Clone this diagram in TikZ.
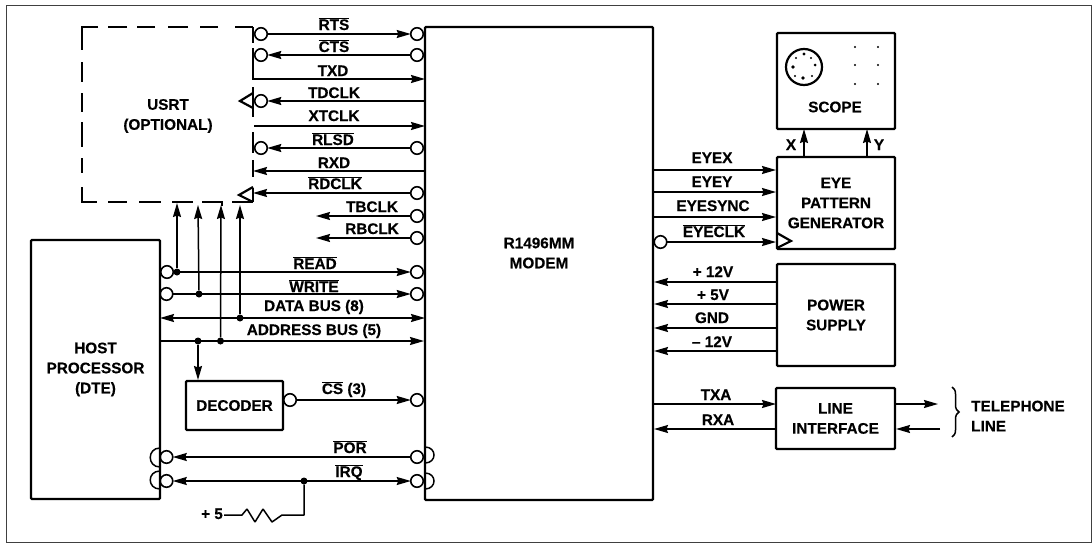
\documentclass[tikz,border=0pt]{standalone}
\usepackage{fontspec}
\setmainfont[BoldFeatures={FakeBold=0.4}]{Liberation Sans}
\usetikzlibrary{arrows.meta, decorations.pathreplacing}
\newcommand{\nsig}[1]{$\overline{\hbox{#1}}$}
\begin{document}
\begin{tikzpicture}[
  x=1pt, y=-1pt,
  txtfont/.style={font=\fontsize{15.3}{20}\selectfont\bfseries},
  box/.style={draw, line width=2.4pt, rounded corners=1pt, inner sep=0pt, outer sep=0pt, align=center, txtfont},
  lab/.style={inner sep=0pt, anchor=base, yshift=-5pt, txtfont},
  txt/.style={inner sep=0pt, align=center, txtfont},
  bub/.style={draw, circle, line width=1.6pt, inner sep=0pt, outer sep=0pt, minimum size=12.5pt},
  wire/.style={line width=1.5pt},
  sig/.style={wire, -{Stealth[length=14pt,width=8pt,inset=1.5pt]}},
  bsig/.style={wire, {Stealth[length=14pt,width=8pt,inset=1.5pt]}-{Stealth[length=14pt,width=8pt,inset=1.5pt]}},
  edge/.style={line width=2.2pt},
  dot/.style={circle, fill, inner sep=0pt, minimum size=7pt}
]
\useasboundingbox (0,0) rectangle (1092,544);
\draw[line width=1pt, black!75] (6,5) rectangle (1091,542);

% boxes
\node[box, minimum width=228pt, minimum height=473pt] (modem) at (539,263.5) {};
\node[txt] (modemT) at (539,253) {R1496MM\\MODEM};
\node[box, minimum width=129pt, minimum height=259pt] (host) at (95.5,369.5) {HOST\\PROCESSOR\\(DTE)};
\node[box, minimum width=97pt, minimum height=49pt] (dec) at (234.5,405.5) {DECODER};
\node[box, minimum width=118pt, minimum height=96pt] (scope) at (836,81) {};
\node[txt] (scopeT) at (835,107) {SCOPE};
\node[box, minimum width=118pt, minimum height=92pt] (eye) at (836,203) {EYE\\PATTERN\\GENERATOR};
\node[box, minimum width=118pt, minimum height=102pt] (pwr) at (836,315) {POWER\\SUPPLY};
\node[box, minimum width=119pt, minimum height=61pt] (line) at (835.5,418.5) {LINE\\INTERFACE};
\node[txt] (usrtT) at (168,116) {USRT\\(OPTIONAL)};

% USRT outline
\draw[edge] (253,27)--(235,27) (218,27)--(200,27) (188,27)--(168,27) (155,27)--(137,27) (127,27)--(108,27)
  (98,27)--(82,27)--(82,50) (82,62)--(82,82) (82,93)--(82,112) (82,122)--(82,147) (82,158)--(82,173)
  (82,187)--(82,202)--(97,202) (108,202)--(127,202) (139,202)--(161,202) (172,202)--(193,202) (202,202)--(222,202)--(222,206) (232,202)--(253,202);
\draw[edge] (253,27)--(253,43) (253,48)--(253,80) (253,87)--(253,117) (253,132)--(253,153) (253,160)--(253,177) (253,188)--(253,202);
\draw[edge] (253,93)--(240,101)--(253,108) (253,187)--(239,195)--(253,202);

% scope face
\draw[edge] (804,67) circle (18pt);
\fill (804,54) circle (1.6pt) (796,58) circle (1.2pt) (811,58) circle (1.2pt) (793,67) circle (1.9pt)
  (815,65) circle (1.5pt) (795,76) circle (1.2pt) (803,78) circle (1.9pt) (812,76) circle (1.2pt);
\fill (855,47) circle (1.2pt) (878,47) circle (1.2pt) (855,65) circle (1.2pt) (878,65) circle (1.2pt)
  (855,84) circle (1.2pt) (878,84) circle (1.2pt);

% USRT side
\node[bub] (rtsU) at (261,34) {};
\node[bub] (rtsM) at (417,34) {};
\node[bub] (ctsU) at (261,55) {};
\node[bub] (ctsM) at (417,55) {};
\coordinate (txdU) at (253,79);
\coordinate (txdM) at (425,79);
\node[bub] (tdU) at (261,101) {};
\coordinate (tdM) at (425,101);
\coordinate (xtU) at (254,126);
\coordinate (xtM) at (425,126);
\node[bub] (rlU) at (261,148) {};
\node[bub] (rlM) at (417,148) {};
\coordinate (rxU) at (253,171);
\coordinate (rxM) at (425,171);
\coordinate (rdU) at (253,193);
\node[bub] (rdM) at (417,193) {};
\coordinate (tbL) at (316,216);
\node[bub] (tbM) at (417,216) {};
\coordinate (rbL) at (316,238);
\node[bub] (rbM) at (417,238) {};
\draw[sig] (rtsU)--(rtsM);
\draw[sig] (ctsM)--(ctsU);
\draw[sig] (txdU)--(txdM);
\draw[sig] (tdM)--(tdU);
\draw[sig] (xtU)--(xtM);
\draw[sig] (rlM)--(rlU);
\draw[sig] (rxM)--(rxU);
\draw[sig] (rdM)--(rdU);
\draw[sig] (tbM)--(tbL);
\draw[sig] (rbM)--(rbL);

% host side
\node[bub] (rdH) at (167,272) {};
\node[bub] (rdN) at (417,272) {};
\node[bub] (wrH) at (166.5,294) {};
\node[bub] (wrN) at (417,294) {};
\coordinate (dbH) at (160,318);
\coordinate (dbM) at (425,318);
\coordinate (abH) at (160,341);
\coordinate (abM) at (424,341);
\node[bub] (csD) at (290,400) {};
\node[bub] (csM) at (417,400) {};
\node[bub] (porH) at (166.5,457) {};
\node[bub] (porM) at (417,457) {};
\node[bub] (irqH) at (166.5,481) {};
\node[bub] (irqM) at (417,481) {};
\draw[sig] (rdH)--(rdN);
\draw[sig] (wrH)--(wrN);
\draw[bsig] (dbH)--(dbM);
\draw[sig] (abH)--(abM);
\draw[sig] (csD)--(csM);
\draw[sig] (porM)--(porH);
\draw[bsig] (irqH)--(irqM);
\draw[wire] (160,448) .. controls (147,448) and (147,467) .. (160,467);
\draw[wire] (160,471) .. controls (147,471) and (147,489) .. (160,489);
\draw[wire] (425,447) .. controls (437,447) and (437,463) .. (425,463);
\draw[wire] (425,473) .. controls (437,473) and (437,489) .. (425,489);

% bus taps
\node[dot] (t1) at (177,272) {};
\node[dot] (t2) at (199,294) {};
\node[dot] (t3) at (240,318) {};
\node[dot] (t4) at (220.5,341) {};
\node[dot] (t5) at (198,341) {};
\coordinate (u1) at (177,203);
\coordinate (u2) at (198,205);
\coordinate (u3) at (240,205);
\coordinate (u4) at (221,205);
\coordinate (d5) at (198,380);
\draw[sig] (t1)--(u1);
\draw[sig] (t2)--(u2);
\draw[sig] (t3)--(u3);
\draw[sig] (t4)--(u4);
\draw[sig] (t5)--(d5);

% pull-up
\node[dot] (irqT) at (304,481) {};
\node[lab] (plus) at (212,514) {+ 5};
\coordinate (r1) at (224,515);
\draw[wire, line join=bevel] (r1)--(242,515)--(247,509)--(255,522)--(263,509)--(272,522)--(282,515)--(304,515)--(irqT);

% right side
\coordinate (exM) at (653,170);
\coordinate (exE) at (776,170);
\coordinate (eyM) at (653,192);
\coordinate (eyE) at (776,192);
\coordinate (esM) at (653,217);
\coordinate (esE) at (776,217);
\node[bub] (ecM) at (660.5,242) {};
\coordinate (ecE) at (776,242);
\draw[sig] (exM)--(exE);
\draw[sig] (eyM)--(eyE);
\draw[sig] (esM)--(esE);
\draw[sig] (ecM)--(ecE);
\draw[edge] (777,233)--(791,241)--(777,248);
\coordinate (xE) at (804,157);
\coordinate (xS) at (804,129);
\coordinate (yE) at (867,157);
\coordinate (yS) at (867,129);
\draw[sig] (xE)--(xS);
\draw[sig] (yE)--(yS);
\coordinate (p1) at (777,282);
\coordinate (p2) at (777,304);
\coordinate (p3) at (777,328);
\coordinate (p4) at (777,351);
\coordinate (m1) at (654,282);
\coordinate (m2) at (654,304);
\coordinate (m3) at (654,328);
\coordinate (m4) at (654,351);
\draw[sig] (p1)--(m1);
\draw[sig] (p2)--(m2);
\draw[sig] (p3)--(m3);
\draw[sig] (p4)--(m4);
\coordinate (txM) at (653,404);
\coordinate (txL) at (776,404);
\coordinate (rxL) at (776,429);
\coordinate (rxN) at (654,429);
\draw[sig] (txM)--(txL);
\draw[sig] (rxL)--(rxN);
\coordinate (outA) at (895,404);
\coordinate (outB) at (938,404);
\coordinate (inA) at (940,429);
\coordinate (inB) at (896,429);
\draw[sig] (outA)--(outB);
\draw[sig] (inA)--(inB);
\draw[wire, decorate, decoration={brace, amplitude=7pt}] (952,387)--(952,437);

% labels
\node[lab] at (334,25) {\nsig{RTS}};
\node[lab] at (334,47) {\nsig{CTS}};
\node[lab] at (333,71) {TXD};
\node[lab] at (334,93) {TDCLK};
\node[lab] at (334,116) {XTCLK};
\node[lab] at (333,140) {\nsig{RLSD}};
\node[lab] at (334,163) {RXD};
\node[lab] at (335,184) {\nsig{RDCLK}};
\node[lab] at (372,207) {TBCLK};
\node[lab] at (372,229) {RBCLK};
\node[lab] at (315,264) {\nsig{READ}};
\node[lab] at (314,287) {\nsig{WRITE}};
\node[lab] at (314,306) {DATA BUS (8)};
\node[lab] at (314,330) {ADDRESS BUS (5)};
\node[lab] at (344,389) {\nsig{CS} (3)};
\node[lab] at (350,448) {\nsig{POR}};
\node[lab] at (349,472) {\nsig{IRQ}};
\node[lab] at (712,158) {EYEX};
\node[lab] at (712,182) {EYEY};
\node[lab] at (713,206) {EYESYNC};
\node[lab] at (714,232) {\nsig{EYECLK}};
\node[lab] at (791,145) {X};
\node[lab] at (879,145) {Y};
\node[lab] at (713,272) {+ 12V};
\node[lab] at (713,295) {+ 5V};
\node[lab] at (712,318) {GND};
\node[lab] at (712,342) {-- 12V};
\node[lab] at (716,395) {TXA};
\node[lab] at (718,420) {RXA};
\node[txt, anchor=west, align=left] (tel) at (971,416) {TELEPHONE\\LINE};
\end{tikzpicture}
\end{document}
